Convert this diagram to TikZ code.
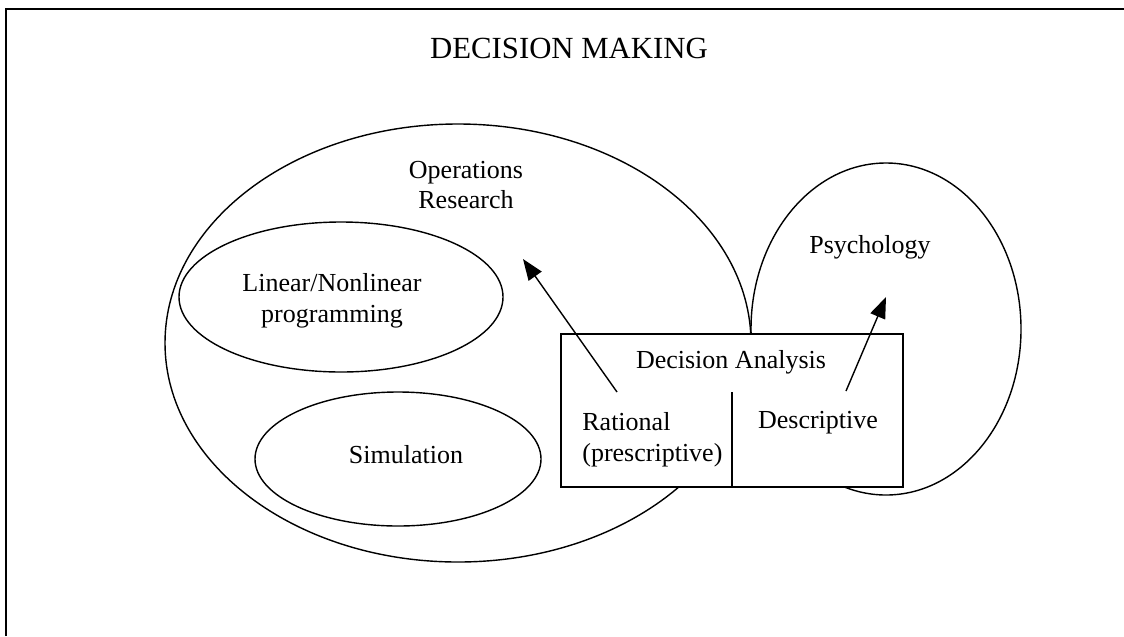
\documentclass[tikz,border=0pt]{standalone}
\usepackage{fontspec}
\setmainfont{Liberation Serif}
\usetikzlibrary{arrows.meta}

\begin{document}
\begin{tikzpicture}[x=0.02cm,y=-0.02cm,
  lbl/.style={font=\fontsize{14.8}{17.6}\selectfont},
  arr/.style={-{Triangle[length=12pt,width=9pt]},line width=0.8pt}]
\tikzstyle{every node}+=[inner sep=0pt]
\useasboundingbox (0,0) rectangle (1124,636);
% frame
\draw [line width=1.4pt] (6,636) -- (6,9) -- (1124,9);
\node (title) at (569,48) {\fontsize{17.5}{20}\selectfont DECISION MAKING};
% sets
\draw [line width=0.8pt] (458,343) ellipse [x radius=293, y radius=219];
\draw [line width=0.8pt] (886,329) ellipse [x radius=135, y radius=166];
\draw [line width=0.8pt] (341,297) ellipse [x radius=162, y radius=75];
\draw [line width=0.8pt] (398,459) ellipse [x radius=143, y radius=67];
\node [lbl,align=center] (opres) at (466,185) {Operations\\Research};
\node [lbl] (psych) at (870,247) {Psychology};
\node [lbl,align=center] (linprog) at (332,301) {Linear/Nonlinear\\programming};
\node [lbl] (sim) at (406,455) {Simulation};
% decision analysis box
\node [draw,fill=white,line width=0.8pt,minimum width=6.84cm,minimum height=3.06cm] (dabox) at (732,410.5) {};
\draw [line width=0.8pt] (dabox.south) -- ++(0,-96);
\node [lbl] (da) at (731,362) {Decision Analysis};
\node [lbl,align=left,anchor=west] (rational) at (582,440) {Rational\\(prescriptive)};
\node [lbl] (descr) at (818,423) {Descriptive};
% arrows
\coordinate (rattail) at (617,392);
\coordinate (ortip) at (523,259);
\coordinate (destail) at (846,391);
\coordinate (pstip) at (886,297);
\draw [arr] (rattail) -- (ortip);
\draw [arr] (destail) -- (pstip);
\end{tikzpicture}
\end{document}
